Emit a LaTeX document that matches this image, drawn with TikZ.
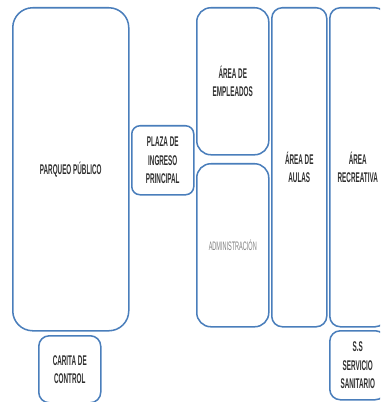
\documentclass[tikz,border=0pt]{standalone}
\usepackage{fontspec}
\setmainfont[FakeStretch=0.45]{Liberation Sans}
\usetikzlibrary{positioning}
\definecolor{borde}{HTML}{4A7EBB}
\definecolor{texto}{HTML}{2E2E2E}
\tikzset{
    zona/.style={draw=borde, line width=1.3pt, rounded corners=#1,
        anchor=north west, align=center, inner sep=0pt, text=texto,
        font=\fontsize{12}{15.5}\selectfont\bfseries},
    zona/.default=9pt,
}

\begin{document}
\begin{tikzpicture}[x=0.03cm, y=-0.03cm]
    \useasboundingbox (0,0) rectangle (380,402);
    \clip (0,0) rectangle (380,402);

    % columna izquierda
    \node[zona=17pt, minimum width=3.48cm, minimum height=9.69cm] (parqueo) at (12,7) {PARQUEO PÚBLICO};
    \node[zona, minimum width=1.86cm, minimum height=2.01cm] (carita) at (38,335) {CARITA DE\\CONTROL};
    \node[zona=7pt, minimum width=1.86cm, minimum height=2.07cm] (plaza) at (131,125) {PLAZA DE\\INGRESO\\PRINCIPAL};

    % bloque central
    \node[zona=12pt, minimum width=2.16cm, minimum height=4.41cm] (empleados) at (196,7) {ÁREA DE\\EMPLEADOS};
    \node[zona=12pt, minimum width=2.16cm, minimum height=4.89cm, text=gray,
          font=\fontsize{10.5}{12}\selectfont] (admin) at (196,163) {ADMINISTRACIÓN};
    \node[zona, minimum width=1.65cm, minimum height=9.57cm] (aulas) at (271,7) {ÁREA DE\\AULAS};

    % columna derecha
    \node[zona, minimum width=1.68cm, minimum height=9.57cm] (recreativa) at (329,7) {ÁREA\\RECREATIVA};
    \node[zona, minimum width=1.68cm, minimum height=2.07cm] (ss) at (329,330) {S.S\\SERVICIO\\SANITARIO};
\end{tikzpicture}
\end{document}
